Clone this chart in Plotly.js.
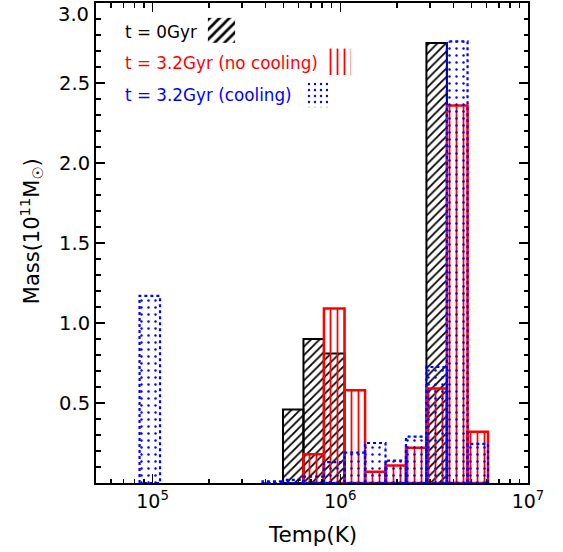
<!DOCTYPE html>
<html><head><meta charset="utf-8">
<script src="https://cdn.plot.ly/plotly-3.0.1.min.js"></script>
<style>html,body{margin:0;padding:0;background:#fff}#chart{width:563px;height:552px}</style>
</head><body><div id="chart"></div>
<script>
// histogram bin edges, log10(T/K)
const binEdgesLogT = [4.931, 5.040, 5.149, 5.258, 5.368, 5.477, 5.586, 5.695, 5.804, 5.913, 6.023, 6.132, 6.241, 6.350, 6.459, 6.568, 6.678, 6.787];
// mass per bin, 1e11 Msun
const massInitial   = [0, 0, 0, 0, 0, 0, 0, 0.46, 0.90, 0.81, 0, 0, 0, 0, 2.75, 0, 0];
const massNoCooling = [0, 0, 0, 0, 0, 0, 0, 0, 0.18, 1.09, 0.58, 0.07, 0.11, 0.22, 0.59, 2.36, 0.32];
const massCooling   = [1.17, 0, 0, 0, 0, 0, 0.01, 0.02, 0.04, 0.13, 0.19, 0.25, 0.14, 0.29, 0.725, 2.76, 0.245];
const seriesNames = ['t = 0Gyr', 't = 3.2Gyr (no cooling)', 't = 3.2Gyr (cooling)'];
const seriesColors = ['#000000', '#ff0000', '#0000ff'];
const xTickVals = [1e5, 1e6, 1e7];
const xTickText = ['10<sup>5</sup>', '10<sup>6</sup>', '10<sup>7</sup>'];
const yTickVals = [0.5, 1.0, 1.5, 2.0, 2.5, 3.0];
const yTickText = ['0.5', '1.0', '1.5', '2.0', '2.5', ''];
const yTopLabel = '3.0';
const xTitle = 'Temp(K)';
const yTitle = 'Mass(10<sup>11</sup>M<sub>☉</sub>)';

function rects(vals) {
  const xs = [], ys = [];
  vals.forEach((v, i) => {
    if (!(v > 0)) return;
    const x0 = Math.pow(10, binEdgesLogT[i]), x1 = Math.pow(10, binEdgesLogT[i + 1]);
    xs.push(x0, x0, x1, x1, x0, null);
    ys.push(0, v, v, 0, 0, null);
  });
  return {xs, ys};
}
const minorX = [];
[1e4, 1e5, 1e6].forEach(d => { for (let k = 2; k <= 9; k++) minorX.push(k * d); });

const patterns = [
  {shape: '/', size: 6, solidity: 0.3},
  {shape: '|', size: 7, solidity: 0.25},
  {shape: '.', size: 7, solidity: 0.1}
];
const lines = [
  {color: seriesColors[0], width: 2},
  {color: seriesColors[1], width: 2.5},
  {color: seriesColors[2], width: 2.2, dash: 'dot'}
];
const series = [massInitial, massNoCooling, massCooling];
const traces = series.map((vals, k) => {
  const r = rects(vals);
  return {
    type: 'scatter', mode: 'lines', x: r.xs, y: r.ys, name: seriesNames[k],
    fill: 'toself', fillcolor: 'rgba(0,0,0,0)',
    fillpattern: Object.assign({fgcolor: seriesColors[k], bgcolor: 'rgba(0,0,0,0)', fgopacity: 1}, patterns[k]),
    line: lines[k], hoverinfo: 'skip'
  };
});

// legend swatches (fractions of the plot area)
const swatchBoxes = [[0.259, 0.322, 0.917, 0.969], [0.535, 0.590, 0.850, 0.905], [0.483, 0.537, 0.783, 0.835]];
swatchBoxes.forEach((b, k) => {
  traces.push({
    type: 'scatter', mode: 'lines', xaxis: 'x2', yaxis: 'y2',
    x: [b[0], b[0], b[1], b[1], b[0]], y: [b[2], b[3], b[3], b[2], b[2]],
    fill: 'toself', fillcolor: 'rgba(0,0,0,0)',
    fillpattern: Object.assign({fgcolor: seriesColors[k], bgcolor: 'rgba(0,0,0,0)', fgopacity: 1}, patterns[k], k === 0 ? {size: 7, solidity: 0.38} : (k === 2 ? {size: 6, solidity: 0.12} : {})),
    line: {width: 0, color: 'rgba(0,0,0,0)'}, hoverinfo: 'skip'
  });
});
const legendY = [0.940, 0.875, 0.808];
const annotations = seriesNames.map((t, k) => ({
  xref: 'paper', yref: 'paper', x: 0.0625, y: legendY[k], xanchor: 'left', yanchor: 'middle',
  text: t, showarrow: false, font: {size: 16.8, color: seriesColors[k], family: 'DejaVu Sans'}
}));
annotations.push({
  xref: 'paper', yref: 'paper', x: -0.012, y: 1.004, xanchor: 'right', yanchor: 'top',
  text: yTopLabel, showarrow: false, font: {size: 19.5, color: '#000', family: 'DejaVu Sans'}
});
annotations.push({
  xref: 'paper', yref: 'paper', x: 0.5, y: -0.108, xanchor: 'center', yanchor: 'middle',
  text: xTitle, showarrow: false, font: {size: 21.5, color: '#000', family: 'DejaVu Sans'}
});
annotations.push({
  xref: 'paper', yref: 'paper', x: -0.150, y: 0.525, xanchor: 'center', yanchor: 'middle', textangle: -90,
  text: yTitle, showarrow: false, font: {size: 21, color: '#000', family: 'DejaVu Sans'}
});

const axisCommon = {
  showline: true, linewidth: 2, linecolor: '#000', mirror: 'allticks', showgrid: false, zeroline: false,
  ticks: 'inside', ticklen: 9, tickwidth: 1.5, tickcolor: '#000', tickfont: {size: 19.5, color: '#000'}
};
const layout = {
  width: 563, height: 552,
  margin: {l: 96, r: 35, t: 3, b: 69},
  paper_bgcolor: '#fff', plot_bgcolor: '#fff', showlegend: false,
  font: {family: 'DejaVu Sans', color: '#000'},
  xaxis: Object.assign({}, axisCommon, {
    type: 'log', range: [Math.log10(5e4), 7], tickmode: 'array', tickvals: xTickVals, ticktext: xTickText,
    tickfont: {size: 19, color: '#000'},
    minor: {tickmode: 'array', tickvals: minorX, ticks: 'inside', ticklen: 4.5, tickwidth: 1.5, tickcolor: '#000', showgrid: false}
  }),
  yaxis: Object.assign({}, axisCommon, {
    range: [0, 3], tickmode: 'array', tickvals: yTickVals, ticktext: yTickText,
    minor: {dtick: 0.1, ticks: 'inside', ticklen: 4.5, tickwidth: 1.5, tickcolor: '#000', showgrid: false}
  }),
  xaxis2: {overlaying: 'x', range: [0, 1], visible: false, fixedrange: true},
  yaxis2: {overlaying: 'y', range: [0, 1], visible: false, fixedrange: true},
  annotations: annotations
};
Plotly.newPlot('chart', traces, layout, {staticPlot: true, displayModeBar: false});
</script>
</body></html>
